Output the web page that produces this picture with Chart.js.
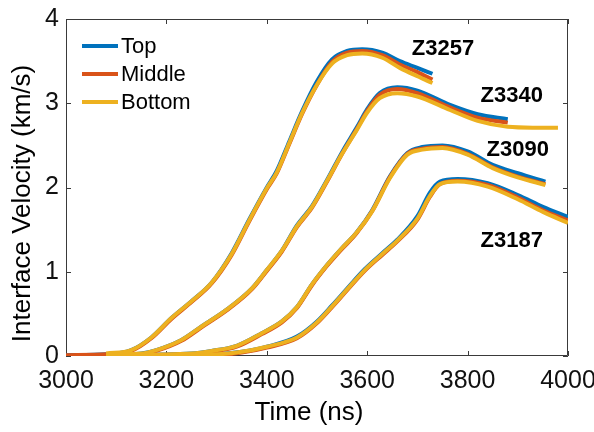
<!DOCTYPE html>
<html>
<head>
<meta charset="utf-8">
<script src="https://cdn.jsdelivr.net/npm/chart.js@4.4.0/dist/chart.umd.min.js"></script>
<style>
  html, body { margin: 0; padding: 0; background: #fff; }
  #wrap { width: 594px; height: 432px; position: relative; }
</style>
</head>
<body>
<div id="wrap"><canvas id="c" width="594" height="432"></canvas></div>
<script>
// ---------------- data ----------------
const seriesNames = ['Top', 'Middle', 'Bottom'];
const xTicks = [3000, 3200, 3400, 3600, 3800, 4000];
const yTicks = [0, 1, 2, 3, 4];

const z3257Time   = [3000, 3080, 3130, 3170, 3210, 3250, 3290, 3330, 3365, 3400, 3420, 3445, 3470, 3500, 3530, 3560, 3590, 3630, 3665, 3700, 3730];
const z3257Top    = [0.01, 0.02, 0.07, 0.22, 0.45, 0.65, 0.87, 1.22, 1.62, 2.00, 2.20, 2.55, 2.90, 3.26, 3.52, 3.62, 3.64, 3.60, 3.50, 3.42, 3.35];
const z3257Middle = [0.01, 0.02, 0.06, 0.21, 0.44, 0.64, 0.86, 1.20, 1.60, 1.98, 2.17, 2.52, 2.87, 3.22, 3.49, 3.60, 3.62, 3.57, 3.46, 3.37, 3.28];
const z3257Bottom = [null, 0.03, 0.07, 0.22, 0.45, 0.65, 0.87, 1.21, 1.61, 1.99, 2.18, 2.53, 2.88, 3.22, 3.47, 3.57, 3.59, 3.54, 3.42, 3.32, 3.24];

const z3340Time   = [3000, 3080, 3150, 3180, 3230, 3270, 3320, 3370, 3400, 3430, 3460, 3490, 3520, 3550, 3580, 3600, 3625, 3660, 3700, 3765, 3820, 3880, 3930, 3980];
const z3340Top    = [0.00, 0.01, 0.03, 0.07, 0.19, 0.35, 0.55, 0.80, 1.02, 1.25, 1.55, 1.78, 2.09, 2.42, 2.72, 2.93, 3.12, 3.19, 3.15, 2.98, 2.87, 2.81, null, null];
const z3340Middle = [0.00, 0.01, 0.02, 0.06, 0.18, 0.34, 0.54, 0.79, 1.01, 1.24, 1.53, 1.76, 2.07, 2.40, 2.70, 2.91, 3.10, 3.17, 3.12, 2.95, 2.83, 2.77, null, null];
const z3340Bottom = [null, 0.02, 0.03, 0.07, 0.19, 0.35, 0.55, 0.80, 1.02, 1.25, 1.54, 1.77, 2.08, 2.40, 2.69, 2.89, 3.06, 3.12, 3.08, 2.92, 2.79, 2.72, 2.71, 2.71];

const z3090Time   = [3000, 3080, 3250, 3290, 3340, 3390, 3430, 3460, 3490, 3520, 3548, 3578, 3610, 3645, 3680, 3710, 3750, 3800, 3850, 3900, 3955];
const z3090Top    = [0.00, 0.01, 0.03, 0.06, 0.12, 0.27, 0.41, 0.58, 0.85, 1.08, 1.27, 1.46, 1.73, 2.13, 2.41, 2.48, 2.50, 2.43, 2.27, 2.17, 2.07];
const z3090Middle = [0.00, 0.01, 0.02, 0.05, 0.11, 0.26, 0.40, 0.57, 0.84, 1.07, 1.26, 1.45, 1.72, 2.12, 2.40, 2.46, 2.48, 2.40, 2.24, 2.13, 2.04];
const z3090Bottom = [null, 0.01, 0.03, 0.06, 0.12, 0.27, 0.41, 0.58, 0.85, 1.08, 1.27, 1.46, 1.72, 2.11, 2.39, 2.45, 2.47, 2.39, 2.23, 2.12, 2.03];

const z3187Time   = [3000, 3080, 3300, 3350, 3400, 3460, 3500, 3530, 3560, 3595, 3630, 3660, 3700, 3725, 3745, 3780, 3840, 3900, 3950, 4000];
const z3187Top    = [0.00, 0.00, 0.02, 0.05, 0.11, 0.23, 0.41, 0.60, 0.80, 1.03, 1.22, 1.38, 1.66, 1.94, 2.07, 2.10, 2.05, 1.91, 1.77, 1.65];
const z3187Middle = [0.00, 0.00, 0.01, 0.04, 0.10, 0.21, 0.39, 0.58, 0.78, 1.01, 1.20, 1.36, 1.62, 1.89, 2.04, 2.08, 2.03, 1.88, 1.73, 1.61];
const z3187Bottom = [null, 0.01, 0.02, 0.05, 0.11, 0.22, 0.40, 0.59, 0.79, 1.02, 1.21, 1.37, 1.63, 1.90, 2.04, 2.07, 2.01, 1.86, 1.71, 1.58];

// shot labels (data coordinates)
const shotNames = ['Z3257', 'Z3340', 'Z3090', 'Z3187'];
const shotLabelX = [3751, 3888, 3900, 3888];
const shotLabelY = [3.66, 3.10, 2.46, 1.38];

// ---------------- styles ----------------
const colors = ['#0072BD', '#D95319', '#EDB120'];
const FONT = "'Liberation Sans', Arial, Helvetica, sans-serif";
const AXIS_COLOR = '#3a3a3a';

const shots = [
  { time: z3257Time, vals: [z3257Top, z3257Middle, z3257Bottom] },
  { time: z3340Time, vals: [z3340Top, z3340Middle, z3340Bottom] },
  { time: z3090Time, vals: [z3090Top, z3090Middle, z3090Bottom] },
  { time: z3187Time, vals: [z3187Top, z3187Middle, z3187Bottom] },
];

const datasets = [];
shots.forEach((s, si) => {
  s.vals.forEach((v, k) => {
    datasets.push({
      label: seriesNames[k] + ' ' + shotNames[si],
      data: s.time.map((t, i) => ({ x: t, y: v[i] })),
      borderColor: colors[k],
      backgroundColor: colors[k],
      borderWidth: 4,
      pointRadius: 0,
      cubicInterpolationMode: 'monotone',
      spanGaps: false,
      order: 3 - k,
      borderCapStyle: 'butt',
      borderJoinStyle: 'round',
    });
  });
});

// ---------------- plugin: box, inward ticks, legend, labels, titles ----------------
const decor = {
  id: 'decor',
  beforeDatasetsDraw(chart) {
    const { ctx, chartArea: a, scales: { x, y } } = chart;
    ctx.save();
    ctx.strokeStyle = AXIS_COLOR;
    ctx.lineWidth = 1;
    ctx.beginPath();
    ctx.rect(a.left + 0.5, a.top + 0.5, a.right - a.left - 1, a.bottom - a.top - 1);
    ctx.stroke();
    const tl = 5;
    ctx.beginPath();
    xTicks.forEach(v => {
      const px = Math.round(x.getPixelForValue(v)) + 0.5;
      ctx.moveTo(px, a.bottom); ctx.lineTo(px, a.bottom - tl);
      ctx.moveTo(px, a.top); ctx.lineTo(px, a.top + tl);
    });
    yTicks.forEach(v => {
      const py = Math.round(y.getPixelForValue(v)) + 0.5;
      ctx.moveTo(a.left, py); ctx.lineTo(a.left + tl, py);
      ctx.moveTo(a.right, py); ctx.lineTo(a.right - tl, py);
    });
    ctx.stroke();
    ctx.restore();
  },
  afterDraw(chart) {
    const { ctx, chartArea: a, scales: { x, y } } = chart;
    ctx.save();
    // legend
    ctx.font = '22px ' + FONT;
    ctx.textBaseline = 'middle';
    ctx.textAlign = 'left';
    seriesNames.forEach((n, k) => {
      const ly = a.top + 27 + k * 28;
      ctx.strokeStyle = colors[k];
      ctx.lineWidth = 4;
      ctx.beginPath();
      ctx.moveTo(a.left + 16, ly); ctx.lineTo(a.left + 52, ly);
      ctx.stroke();
      ctx.fillStyle = '#000';
      ctx.fillText(n, a.left + 55, ly + 1);
    });
    // shot labels
    ctx.font = 'bold 22px ' + FONT;
    ctx.textAlign = 'center';
    shotNames.forEach((n, i) => {
      ctx.fillText(n, x.getPixelForValue(shotLabelX[i]), y.getPixelForValue(shotLabelY[i]) + 1);
    });
    // axis titles
    ctx.font = '26px ' + FONT;
    ctx.fillStyle = '#000';
    ctx.textAlign = 'center';
    ctx.fillText('Time (ns)', (a.left + a.right) / 2 - 8, 413);
    ctx.translate(23, (a.top + a.bottom) / 2 + 16);
    ctx.rotate(-Math.PI / 2);
    ctx.fillText('Interface Velocity (km/s)', 0, 0);
    ctx.restore();
  }
};

new Chart(document.getElementById('c'), {
  type: 'line',
  data: { datasets },
  options: {
    responsive: false,
    animation: false,
    events: [],
    layout: { padding: { top: 19, right: 26, left: 0, bottom: 0 } },
    plugins: { legend: { display: false }, tooltip: { enabled: false } },
    scales: {
      x: {
        type: 'linear',
        min: 3000, max: 4000,
        afterBuildTicks: s => { s.ticks = xTicks.map(v => ({ value: v })); },
        afterFit: s => { s.height = 76; s.paddingLeft = 0; s.paddingRight = 0; },
        grid: { display: false, drawTicks: false },
        border: { display: false },
        ticks: { font: { family: FONT, size: 25 }, color: '#111', padding: 10, maxRotation: 0, callback: v => String(v) },
      },
      y: {
        type: 'linear',
        min: 0, max: 4,
        afterBuildTicks: s => { s.ticks = yTicks.map(v => ({ value: v })); },
        afterFit: s => { s.width = 66; s.paddingTop = 0; s.paddingBottom = 0; },
        grid: { display: false, drawTicks: false },
        border: { display: false },
        ticks: { font: { family: FONT, size: 25 }, color: '#111', padding: 7, callback: v => String(v) },
      }
    }
  },
  plugins: [decor]
});
</script>
</body>
</html>
